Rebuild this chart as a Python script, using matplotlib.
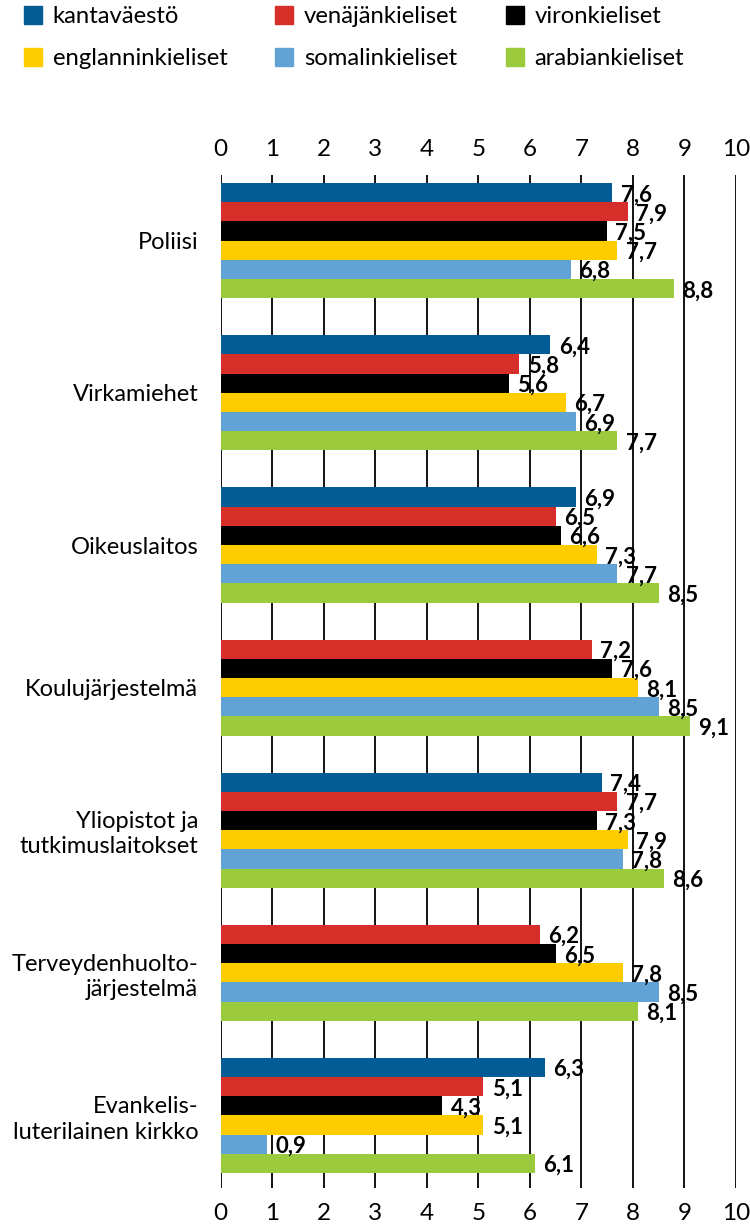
import matplotlib
matplotlib.use("Agg")
import matplotlib.pyplot as plt
from matplotlib.patches import Patch

plt.rcParams['font.family'] = ['Lato', 'DejaVu Sans']

categories = ["Poliisi", "Virkamiehet", "Oikeuslaitos", "Koulujärjestelmä",
              "Yliopistot ja\ntutkimuslaitokset", "Terveydenhuolto-\njärjestelmä",
              "Evankelis-\nluterilainen kirkko"]
series = ["kantaväestö", "venäjänkieliset", "vironkieliset",
          "englanninkieliset", "somalinkieliset", "arabiankieliset"]
kantavaesto = [7.6, 6.4, 6.9, None, 7.4, None, 6.3]
venaja = [7.9, 5.8, 6.5, 7.2, 7.7, 6.2, 5.1]
viro = [7.5, 5.6, 6.6, 7.6, 7.3, 6.5, 4.3]
englanti = [7.7, 6.7, 7.3, 8.1, 7.9, 7.8, 5.1]
somali = [6.8, 6.9, 7.7, 8.5, 7.8, 8.5, 0.9]
arabia = [8.8, 7.7, 8.5, 9.1, 8.6, 8.1, 6.1]
values = [kantavaesto, venaja, viro, englanti, somali, arabia]
colors = ["#035C96", "#D62F2A", "#000000", "#FFCC00", "#62A3D6", "#9BCB3C"]

fig = plt.figure(figsize=(7.5, 12.26), dpi=100)
ax = fig.add_axes([220.5 / 750, 1 - 1188 / 1226, 515.5 / 750, 1013 / 1226])

gap = 1.93
pos = 0.42
centers = []
for g in range(len(categories)):
    first = pos
    for s in range(len(series)):
        v = values[s][g]
        if v is None:
            continue
        y = pos + 0.5
        ax.barh(y, v, height=1.0, color=colors[s], zorder=3)
        ax.annotate(f"{v:.1f}".replace(".", ","), (v, y), xytext=(6, -1.5),
                    textcoords="offset points", ha="left", va="center",
                    fontsize=16, fontweight="bold", zorder=4)
        pos += 1
    centers.append((first + pos) / 2)
    pos += gap

ax.set_xlim(0, 10)
ax.set_ylim(pos - gap + 0.78, 0)
ax.set_xticks(range(11))
ax.tick_params(axis="x", length=0, labeltop=True, labelsize=17.5, pad=11)
ax.set_yticks(centers)
ax.set_yticklabels(categories, fontsize=17, linespacing=1.25)
ax.tick_params(axis="y", length=0, pad=16)
for s in ax.spines.values():
    s.set_visible(False)
ax.grid(axis="x", color="black", linewidth=1.3, zorder=0)
ax.set_axisbelow(True)

handles = [Patch(color=c, label=l) for c, l in zip(colors, series)]
order = [0, 3, 1, 4, 2, 5]
fig.legend([handles[i] for i in order], [series[i] for i in order], ncol=3,
           loc="upper left", bbox_to_anchor=(24 / 750, 1 - 6 / 1226),
           frameon=False, fontsize=17.2, handlelength=0.75, handleheight=0.8,
           handletextpad=0.45, columnspacing=2.0, labelspacing=0.85,
           borderpad=0, borderaxespad=0)

fig.savefig("out.png", dpi=100)
